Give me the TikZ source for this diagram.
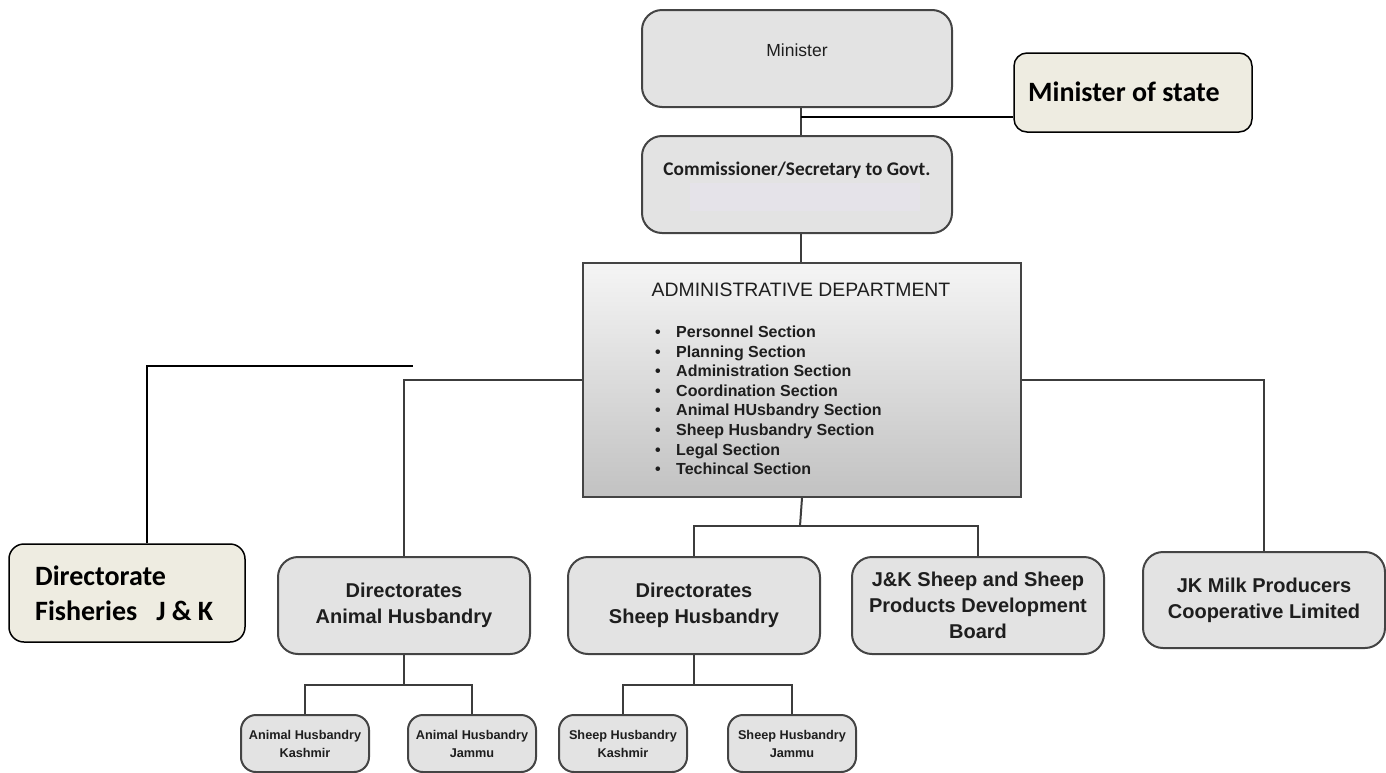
\documentclass[tikz,border=0pt]{standalone}
\usepackage{fontspec}
\setmainfont{Liberation Sans}
\newfontfamily\calib{Carlito}
\usetikzlibrary{calc}
\definecolor{boxline}{HTML}{444444}
\definecolor{boxfill}{HTML}{E3E3E3}
\definecolor{beige}{HTML}{EEECE1}
\definecolor{conn}{HTML}{3C3C3C}
\definecolor{txt}{HTML}{1E1E1E}
\definecolor{lav}{HTML}{E8E4F2}
\tikzset{
  gbox/.style={draw=boxline, line width=2pt, fill=boxfill, rounded corners=20pt, inner sep=0pt, align=center, text=txt},
  bbox/.style={draw=black, line width=1.5pt, fill=beige, rounded corners=13pt, inner sep=0pt},
  dirbox/.style={gbox, minimum width=252pt, minimum height=97pt, font=\fontsize{20}{26}\selectfont\bfseries},
  smallbox/.style={gbox, rounded corners=15pt, minimum width=128pt, minimum height=57pt, font=\fontsize{12.7}{18}\selectfont\bfseries},
  cline/.style={draw=conn, line width=2pt},
  bline/.style={draw=black, line width=1.5pt},
  caltext/.style={anchor=base west, inner sep=0pt, font=\calib\bfseries\fontsize{28}{34}\selectfont},
  bul/.style={anchor=base west, inner sep=0pt, font=\fontsize{16}{19}\selectfont\bfseries, text=txt}
}
\begin{document}
\begin{tikzpicture}[x=1pt, y=-1pt]
\useasboundingbox (0,0) rectangle (1386,772);
% top boxes
\node[gbox, minimum width=310pt, minimum height=97pt] (minister) at (797,58.5) {};
\node[font=\fontsize{17.5}{21}\selectfont, text=txt, inner sep=0pt] (ministertext) at (797,50) {Minister};
\node[gbox, minimum width=310pt, minimum height=97pt] (commis) at (797,184.5) {};
\fill[lav, opacity=0.45] (690,183) rectangle (920,211);
\node[font=\calib\bfseries\fontsize{19.3}{23}\selectfont, text=txt, inner sep=0pt] (commistext) at (797,170) {Commissioner/Secretary to Govt.};
\node[bbox, minimum width=238pt, minimum height=79pt] (mos) at (1133,92.5) {};
\node[caltext] (mostext) at (1028,101) {Minister of state};
\coordinate (mosj) at (801,117);
% admin
\node[draw=boxline, line width=2pt, top color=white!96!black, bottom color=white!76!black, minimum width=438pt, minimum height=234pt, inner sep=0pt] (admin) at (802,380) {};
\node[font=\fontsize{19.4}{23}\selectfont, text=txt, inner sep=0pt] (adtitle) at (801,290) {ADMINISTRATIVE DEPARTMENT};
\foreach \t [count=\i] in {Personnel Section, Planning Section, Administration Section, Coordination Section, Animal HUsbandry Section, Sheep Husbandry Section, Legal Section, Techincal Section}{
  \node[bul] (bt\i) at (676,{337.5+19.6*(\i-1)}) {\t};
  \node[bul] (bd\i) at (655,{337.5+19.6*(\i-1)}) {\textbullet};
}
% fisheries
\node[bbox, rounded corners=15pt, minimum width=236pt, minimum height=98pt] (fish) at (127,593) {};
\node[caltext] (fisht1) at (35,585) {Directorate};
\node[caltext] (fisht2) at (35,620) {Fisheries\hspace{19pt}J \& K};
\coordinate (fishend) at (413,366);
% directorates row
\node[dirbox] (ahdir) at (404,605.5) {Directorates\\Animal Husbandry};
\node[dirbox] (shdir) at (694,605.5) {Directorates\\Sheep Husbandry};
\node[dirbox] (jkb) at (978,605.5) {J\&K Sheep and Sheep\\Products Development\\Board};
\node[dirbox, minimum width=242pt, minimum height=96pt] (milk) at (1264,600) {JK Milk Producers\\Cooperative Limited};
% small boxes
\node[smallbox] (ahk) at (305,743.5) {Animal Husbandry\\Kashmir};
\node[smallbox] (ahj) at (472,743.5) {Animal Husbandry\\Jammu};
\node[smallbox] (shk) at (623,743.5) {Sheep Husbandry\\Kashmir};
\node[smallbox] (shj) at (792,743.5) {Sheep Husbandry\\Jammu};
\coordinate (adsplit) at (800,526);
\coordinate (ahsplit) at (404,685);
\coordinate (shsplit) at (694,685);
% connectors
\draw[cline] (minister.south -| mosj) -- (commis.north -| mosj);
\draw[cline] (commis.south -| mosj) -- (admin.north -| mosj);
\draw[bline] (mosj) -- (mosj -| mos.west);
\draw[cline] (admin.west) -| (ahdir.north);
\draw[cline] (admin.east) -| (milk.north);
\draw[cline] (admin.south) -- (adsplit);
\draw[cline] (shdir.north) |- (adsplit) -| (jkb.north);
\draw[cline] (ahdir.south) -- (ahsplit);
\draw[cline] (ahk.north) |- (ahsplit) -| (ahj.north);
\draw[cline] (shdir.south) -- (shsplit);
\draw[cline] (shk.north) |- (shsplit) -| (shj.north);
\draw[bline] ([xshift=20pt]fish.north) |- (fishend);
\end{tikzpicture}
\end{document}
